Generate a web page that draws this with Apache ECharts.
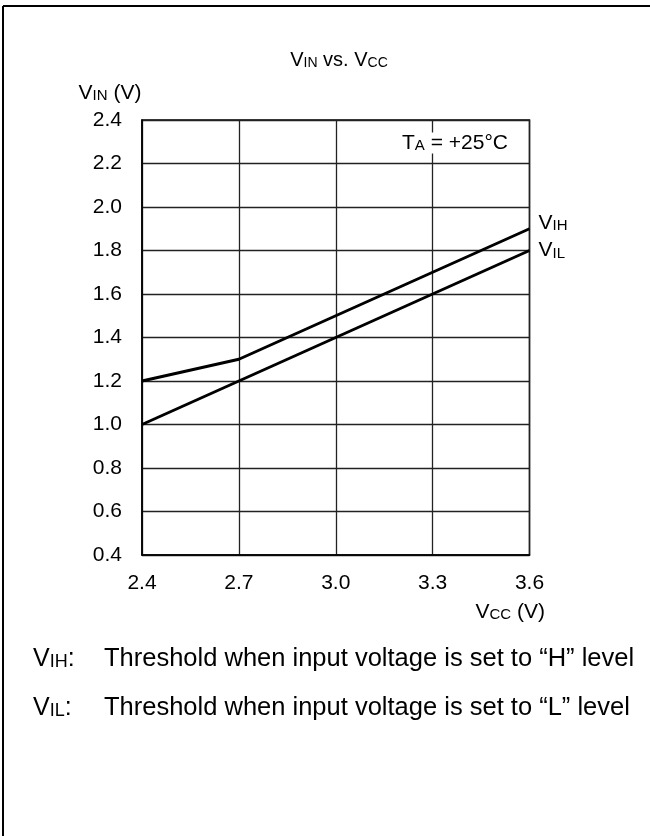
<!DOCTYPE html>
<html>
<head>
<meta charset="utf-8">
<script src="https://cdn.jsdelivr.net/npm/echarts@6/dist/echarts.min.js"></script>
<style>html,body{margin:0;padding:0;background:#fff;}#c{width:650px;height:836px;}</style>
</head>
<body>
<div id="c"></div>
<script>
// Data
var vihX = [2.4, 2.7, 3.6];
var vihY = [1.2, 1.3, 1.9];
var vilX = [2.4, 3.6];
var vilY = [1.0, 1.8];
var xTicks = [2.4, 2.7, 3.0, 3.3, 3.6];
var yTicks = [0.4, 0.6, 0.8, 1.0, 1.2, 1.4, 1.6, 1.8, 2.0, 2.2, 2.4];

var FONT = '"Liberation Sans", Arial, sans-serif';
function pairs(xs, ys) { return xs.map(function (x, i) { return [x, ys[i]]; }); }
function rich(big, small) {
  return {
    b: { fontSize: big, fontFamily: FONT, color: '#000', lineHeight: big, verticalAlign: 'bottom' },
    s: { fontSize: Math.round(big * 0.7), fontFamily: FONT, color: '#000', lineHeight: Math.round(big * 0.7), verticalAlign: 'bottom' }
  };
}

var chart = echarts.init(document.getElementById('c'), null, { renderer: 'canvas' });
chart.setOption({
  animation: false,
  backgroundColor: '#fff',
  grid: { left: 142, right: 120.5, top: 120, bottom: 281, show: true, borderColor: '#000', borderWidth: 1.5, backgroundColor: 'transparent' },
  xAxis: {
    type: 'value', min: xTicks[0], max: xTicks[xTicks.length - 1], interval: 0.3,
    axisLine: { show: true, lineStyle: { color: '#000', width: 1.5 } },
    axisTick: { show: false },
    splitLine: { show: true, lineStyle: { color: '#222', width: 1.3 } },
    axisLabel: { margin: 18, fontSize: 21, fontFamily: FONT, color: '#000', formatter: function (v) { return v.toFixed(1); } }
  },
  yAxis: {
    type: 'value', min: yTicks[0], max: yTicks[yTicks.length - 1], interval: 0.2,
    axisLine: { show: true, lineStyle: { color: '#000', width: 1.5 } },
    axisTick: { show: false },
    splitLine: { show: true, lineStyle: { color: '#222', width: 1.3 } },
    axisLabel: { margin: 20, fontSize: 21, fontFamily: FONT, color: '#000', formatter: function (v) { return v.toFixed(1); } }
  },
  series: [
    {
      type: 'line', data: pairs(vihX, vihY), symbol: 'none', silent: true,
      lineStyle: { color: '#000', width: 3 },
      endLabel: { show: true, distance: 0, offset: [9, -6], formatter: '{b|V}{s|IH}', rich: rich(21) }
    },
    {
      type: 'line', data: pairs(vilX, vilY), symbol: 'none', silent: true,
      lineStyle: { color: '#000', width: 3 },
      endLabel: { show: true, distance: 0, offset: [9, 0], formatter: '{b|V}{s|IL}', rich: rich(21) }
    }
  ],
  graphic: [
    { type: 'line', shape: { x1: 3, y1: 6, x2: 650, y2: 6 }, style: { stroke: '#000', lineWidth: 2 } },
    { type: 'line', shape: { x1: 3, y1: 6, x2: 3, y2: 836 }, style: { stroke: '#000', lineWidth: 2 } },
    { type: 'text', x: 339, y: 60, style: { text: '{b|V}{s|IN}{b| vs. V}{s|CC}', rich: rich(20), align: 'center', verticalAlign: 'middle' } },
    { type: 'text', x: 110, y: 93, style: { text: '{b|V}{s|IN}{b| (V)}', rich: rich(21), align: 'center', verticalAlign: 'middle' } },
    { type: 'text', x: 545, y: 612, style: { text: '{b|V}{s|CC}{b| (V)}', rich: rich(21), align: 'right', verticalAlign: 'middle' } },
    { type: 'text', x: 402, y: 143, z: 10, style: { text: '{b|T}{s|A}{b| = +25°C}', rich: rich(21), align: 'left', verticalAlign: 'middle', backgroundColor: '#fff' } },
    { type: 'text', x: 33, y: 659, style: { text: '{b|V}{s|IH}{b|:}', rich: rich(25), align: 'left', verticalAlign: 'middle' } },
    { type: 'text', x: 104, y: 659, style: { text: 'Threshold when input voltage is set to \u201CH\u201D level', font: '25.5px ' + FONT, fill: '#000', align: 'left', verticalAlign: 'middle' } },
    { type: 'text', x: 33, y: 708, style: { text: '{b|V}{s|IL}{b|:}', rich: rich(25), align: 'left', verticalAlign: 'middle' } },
    { type: 'text', x: 104, y: 708, style: { text: 'Threshold when input voltage is set to \u201CL\u201D level', font: '25.5px ' + FONT, fill: '#000', align: 'left', verticalAlign: 'middle' } }
  ]
});
</script>
</body>
</html>
